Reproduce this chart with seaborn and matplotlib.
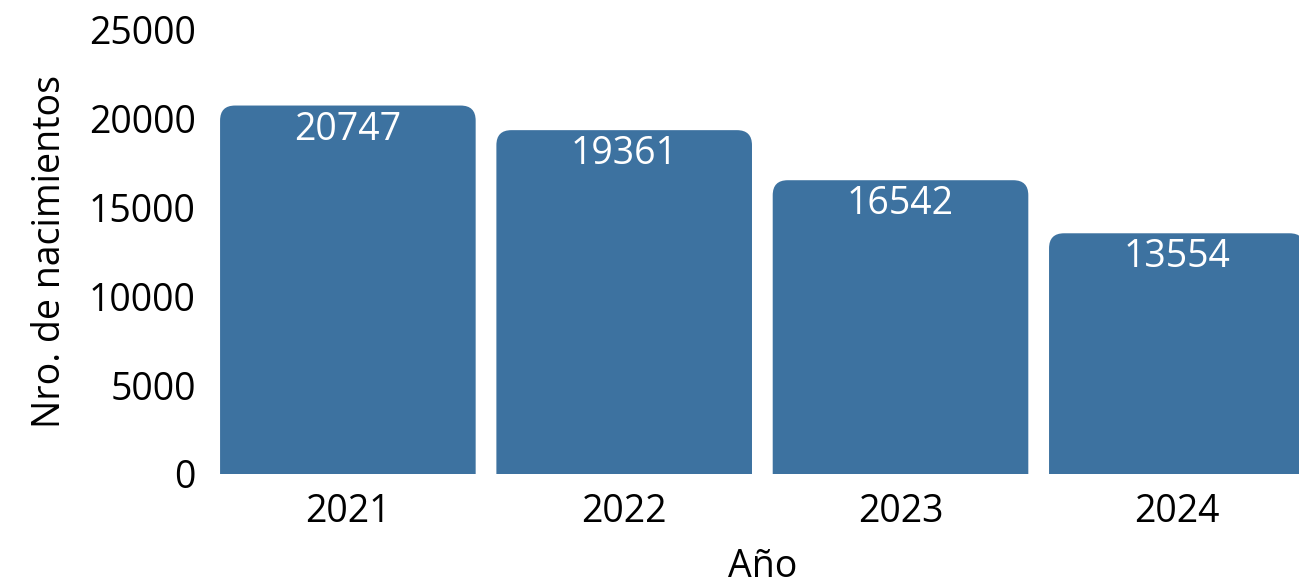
import numpy as np
import pandas as pd
import seaborn as sns
import matplotlib.pyplot as plt
from matplotlib.patches import FancyBboxPatch

# Data
years = ["2021", "2022", "2023", "2024"]
births = [20747, 19361, 16542, 13554]

df = pd.DataFrame({"Año": years, "Nro. de nacimientos": births})

sns.set_style("white")
plt.rcParams["font.family"] = ["Open Sans", "DejaVu Sans"]
plt.rcParams["text.color"] = "black"
plt.rcParams["axes.labelcolor"] = "black"
plt.rcParams["xtick.color"] = "black"
plt.rcParams["ytick.color"] = "black"

bar_color = "#3d72a0"

fig = plt.figure(figsize=(12.99, 5.85), dpi=100)
ax = fig.add_axes([209.7 / 1299, 111 / 585, 1105.3 / 1299, 444 / 585])

sns.barplot(data=df, x="Año", y="Nro. de nacimientos", color=bar_color,
            width=0.925, saturation=1, ax=ax)

ax.set_ylim(0, 25000)
ax.set_xlim(-0.5, 3.5)
ax.set_yticks([0, 5000, 10000, 15000, 20000, 25000])

# pixels per data unit, for rounding corners evenly
px_x = ax.transData.transform((1, 0))[0] - ax.transData.transform((0, 0))[0]
px_y = ax.transData.transform((0, 1))[1] - ax.transData.transform((0, 0))[1]
aspect = px_x / px_y
radius = 15 / px_x
drop = 30 / px_y  # push the rounded bottom below the axis so it gets clipped

for p in list(ax.patches):
    x, y, w, h = p.get_x(), p.get_y(), p.get_width(), p.get_height()
    p.set_visible(False)
    ax.add_patch(FancyBboxPatch((x, y - drop), w, h + drop,
                                boxstyle=f"round,pad=0,rounding_size={radius}",
                                mutation_aspect=aspect, fc=bar_color, ec="none"))

for i, v in enumerate(births):
    ax.text(i, v - 1350, str(v), ha="center", va="center",
            color="white", fontsize=27)

sns.despine(ax=ax, left=True, bottom=True)
ax.tick_params(axis="both", length=0, labelsize=27, pad=10)
ax.tick_params(axis="x", pad=14)
ax.set_xlabel("Año", fontsize=27, labelpad=12)
ax.set_ylabel("Nro. de nacimientos", fontsize=27, labelpad=14)

fig.savefig("out.png", dpi=100)
